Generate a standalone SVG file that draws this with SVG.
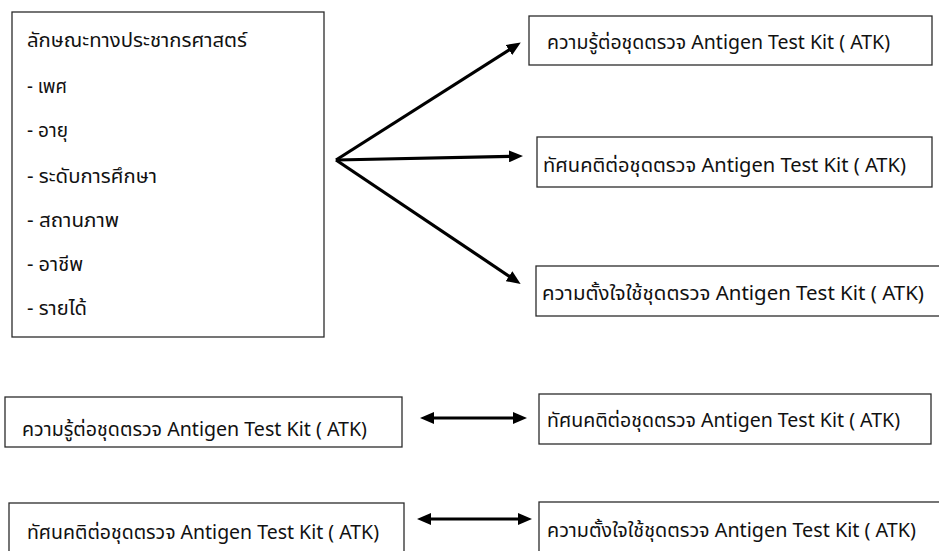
<svg xmlns="http://www.w3.org/2000/svg" width="939" height="551" viewBox="0 0 939 551">
<style>
.box{fill:#fff;stroke:#2b2b2b;stroke-width:1.3}
.t{font-family:"Noto Sans Thai","Noto Sans","DejaVu Sans",sans-serif;font-size:19px;fill:#111}
.c{fill:none;stroke:#000;stroke-width:3.2}
</style>
<defs>
<marker id="ah" markerUnits="userSpaceOnUse" markerWidth="15" markerHeight="12" refX="6" refY="6" orient="auto-start-reverse">
<path d="M0,0 L14,6 L0,12 z" fill="#000"/>
</marker>
</defs>
<rect width="939" height="551" fill="#fff"/>
<g id="demographics">
<rect class="box" x="12" y="12" width="312" height="325"/>
<text class="t" x="27" y="47" textLength="220" lengthAdjust="spacingAndGlyphs">ลักษณะทางประชากรศาสตร์</text>
<text class="t" x="27" y="93" textLength="40" lengthAdjust="spacingAndGlyphs">- เพศ</text>
<text class="t" x="27" y="137" textLength="41" lengthAdjust="spacingAndGlyphs">- อายุ</text>
<text class="t" x="27" y="183" textLength="130" lengthAdjust="spacingAndGlyphs">- ระดับการศึกษา</text>
<text class="t" x="27" y="227" textLength="92" lengthAdjust="spacingAndGlyphs">- สถานภาพ</text>
<text class="t" x="27" y="271" textLength="56" lengthAdjust="spacingAndGlyphs">- อาชีพ</text>
<text class="t" x="27" y="315" textLength="60" lengthAdjust="spacingAndGlyphs">- รายได้</text>
</g>
<g id="knowledge1">
<rect class="box" x="529" y="16" width="403" height="49"/>
<text class="t" x="547" y="49" textLength="343" lengthAdjust="spacingAndGlyphs">ความรู้ต่อชุดตรวจ Antigen Test Kit ( ATK)</text>
</g>
<g id="attitude1">
<rect class="box" x="537" y="137" width="395" height="50"/>
<text class="t" x="543" y="172" textLength="363" lengthAdjust="spacingAndGlyphs">ทัศนคติต่อชุดตรวจ Antigen Test Kit ( ATK)</text>
</g>
<g id="intention1">
<rect class="box" x="536" y="266" width="410" height="50"/>
<text class="t" x="542" y="300" textLength="382" lengthAdjust="spacingAndGlyphs">ความตั้งใจใช้ชุดตรวจ Antigen Test Kit ( ATK)</text>
</g>
<g id="knowledge2">
<rect class="box" x="5" y="397" width="397" height="50"/>
<text class="t" x="22" y="436" textLength="345" lengthAdjust="spacingAndGlyphs">ความรู้ต่อชุดตรวจ Antigen Test Kit ( ATK)</text>
</g>
<g id="attitude2">
<rect class="box" x="539" y="394" width="392" height="50"/>
<text class="t" x="547" y="427" textLength="353" lengthAdjust="spacingAndGlyphs">ทัศนคติต่อชุดตรวจ Antigen Test Kit ( ATK)</text>
</g>
<g id="attitude3">
<rect class="box" x="9" y="503" width="395" height="60"/>
<text class="t" x="27" y="539" textLength="352" lengthAdjust="spacingAndGlyphs">ทัศนคติต่อชุดตรวจ Antigen Test Kit ( ATK)</text>
</g>
<g id="intention2">
<rect class="box" x="539" y="502" width="410" height="60"/>
<text class="t" x="547" y="537" textLength="369" lengthAdjust="spacingAndGlyphs">ความตั้งใจใช้ชุดตรวจ Antigen Test Kit ( ATK)</text>
</g>
<g id="connectors">
<line class="c" x1="336" y1="160" x2="514" y2="46.8" marker-end="url(#ah)"/>
<line class="c" x1="336" y1="160" x2="515" y2="156.2" marker-end="url(#ah)"/>
<line class="c" x1="336" y1="160" x2="514" y2="279.5" marker-end="url(#ah)"/>
<line class="c" x1="428" y1="418" x2="519" y2="418" marker-start="url(#ah)" marker-end="url(#ah)"/>
<line class="c" x1="425" y1="519" x2="524" y2="519" marker-start="url(#ah)" marker-end="url(#ah)"/>
</g>
</svg>
